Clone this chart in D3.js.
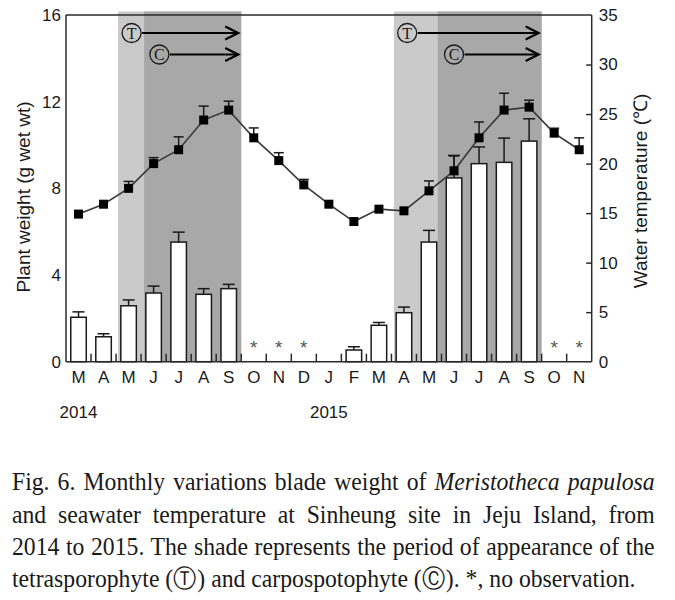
<!DOCTYPE html>
<html>
<head>
<meta charset="utf-8">
<script src="https://cdn.jsdelivr.net/npm/d3@7"></script>
<style>
  html, body { margin: 0; padding: 0; background: #fff; }
  svg { display: block; }
</style>
</head>
<body>
<svg id="chart" width="675" height="600"></svg>
<script>
// ---------------- data ----------------
const months = ["M","A","M","J","J","A","S","O","N","D","J","F","M","A","M","J","J","A","S","O","N"];
const yearLabels = ["2014", "2015"];
const yearMonthIndex = [0, 10];
// blade weight (g wet wt), null = no bar
const weight    = [2.05, 1.15, 2.58, 3.17, 5.52, 3.11, 3.37, null, null, null, null, 0.54, 1.68, 2.26, 5.52, 8.48, 9.14, 9.20, 10.18, null, null];
const weightErr = [0.25, 0.14, 0.27, 0.32, 0.46, 0.26, 0.20, null, null, null, null, 0.15, 0.13, 0.26, 0.54, 1.04, 0.77, 1.12, 1.03, null, null];
// months with no observation (*)
const noObservation = [7, 8, 9, 19, 20];
// water temperature (°C)
const temp    = [14.9, 15.9, 17.5, 20.0, 21.4, 24.4, 25.4, 22.6, 20.3, 17.85, 15.9, 14.15, 15.4, 15.23, 17.25, 19.27, 22.6, 25.4, 25.7, 23.07, 21.4];
const tempErr = [0, 0, 0.7, 0.6, 1.3, 1.4, 0.9, 1.0, 0.8, 0.55, 0, 0, 0, 0, 1.0, 1.5, 1.6, 1.7, 0.7, 0.5, 1.2];
// shaded periods in month-index units [start, end]
const tetraPeriods = [[2.08, 7.0], [13.1, 19.0]];
const carpoPeriods = [[3.12, 7.0], [14.85, 19.0]];
// phase arrows: label, start (month index of circle), end (month index of arrow tip), row
const arrowLabels = ["T", "C", "T", "C"];
const arrowStart  = [2.62, 3.73, 13.63, 15.5];
const arrowEnd    = [6.88, 6.88, 18.88, 18.88];
const arrowRow    = [0, 1, 0, 1];
const weightTicks = [0, 4, 8, 12, 16];
const tempTicks = [0, 5, 10, 15, 20, 25, 30, 35];
const captionLines = [
  [["Fig. 6. Monthly variations blade weight of ", false], ["Meristotheca papulosa", true]],
  [["and seawater temperature at Sinheung site in Jeju Island, from", false]],
  [["2014 to 2015. The shade represents the period of appearance of the", false]],
  [["tetrasporophyte (\u24C9) and carpospotophyte (\u24B8). *, no observation.", false]]
];

// ---------------- layout ----------------
const svg = d3.select("#chart");
const L = 66, R = 591.7, T = 15, B = 361.7;
const sans = "'Liberation Sans', Arial, sans-serif";
const serif = "'Liberation Serif', 'Times New Roman', serif";

const xi = d3.scaleLinear().domain([0, months.length]).range([L, R]);
const xb = d3.scaleBand().domain(d3.range(months.length)).range([L, R]).paddingInner(0).paddingOuter(0);
const yW = d3.scaleLinear().domain([0, 16]).range([B, T]);
const yT = d3.scaleLinear().domain([0, 35]).range([B, T]);
const barW = xb.bandwidth() * 0.62;

// shading
svg.append("g").selectAll("rect.light").data(tetraPeriods).join("rect")
  .attr("x", d => xi(d[0])).attr("width", d => xi(d[1]) - xi(d[0]))
  .attr("y", T - 3.5).attr("height", B - T + 3.5)
  .attr("fill", "#cacaca");
svg.append("g").selectAll("rect.dark").data(carpoPeriods).join("rect")
  .attr("x", d => xi(d[0])).attr("width", d => xi(d[1]) - xi(d[0]))
  .attr("y", T - 3.5).attr("height", B - T + 3.5)
  .attr("fill", "#a8a8a8");

// bars
const barIdx = d3.range(months.length).filter(i => weight[i] != null);
const gBars = svg.append("g");
barIdx.forEach(i => {
  const cx = xb(i) + xb.bandwidth() / 2;
  const top = weight[i] + (weightErr[i] || 0);
  gBars.append("line").attr("x1", cx).attr("x2", cx).attr("y1", yW(weight[i])).attr("y2", yW(top))
    .attr("stroke", "#1a1a1a").attr("stroke-width", 1.5);
  gBars.append("line").attr("x1", cx - 6).attr("x2", cx + 6).attr("y1", yW(top)).attr("y2", yW(top))
    .attr("stroke", "#1a1a1a").attr("stroke-width", 1.5);
});
gBars.selectAll("rect").data(barIdx).join("rect")
  .attr("x", i => xb(i) + (xb.bandwidth() - barW) / 2)
  .attr("width", barW)
  .attr("y", i => yW(weight[i]))
  .attr("height", i => yW(0) - yW(weight[i]))
  .attr("fill", "#fff").attr("stroke", "#1a1a1a").attr("stroke-width", 1.5);

// no observation asterisks
svg.append("g").selectAll("text").data(noObservation).join("text")
  .attr("x", i => xb(i) + xb.bandwidth() / 2).attr("y", 353.5)
  .attr("text-anchor", "middle").attr("font-family", sans).attr("font-size", 19)
  .attr("fill", "#555").text("*");

// temperature error bars
const gT = svg.append("g");
d3.range(months.length).filter(i => tempErr[i] > 0).forEach(i => {
  const cx = xb(i) + xb.bandwidth() / 2;
  const top = temp[i] + tempErr[i];
  gT.append("line").attr("x1", cx).attr("x2", cx).attr("y1", yT(temp[i])).attr("y2", yT(top))
    .attr("stroke", "#1a1a1a").attr("stroke-width", 1.5);
  gT.append("line").attr("x1", cx - 5).attr("x2", cx + 5).attr("y1", yT(top)).attr("y2", yT(top))
    .attr("stroke", "#1a1a1a").attr("stroke-width", 1.5);
});
// temperature line
const line = d3.line().x((d, i) => xb(i) + xb.bandwidth() / 2).y(d => yT(d));
gT.append("path").datum(temp).attr("d", line).attr("fill", "none")
  .attr("stroke", "#3a3a3a").attr("stroke-width", 1.6);
gT.selectAll("rect").data(temp).join("rect")
  .attr("x", (d, i) => xb(i) + xb.bandwidth() / 2 - 4.5)
  .attr("y", d => yT(d) - 4.5)
  .attr("width", 9).attr("height", 9).attr("fill", "#000");

// phase arrows
const rowY = [33, 54.5];
const gA = svg.append("g");
arrowLabels.forEach((lab, k) => {
  const cx = xi(arrowStart[k]), cy = rowY[arrowRow[k]], x2 = xi(arrowEnd[k]);
  gA.append("circle").attr("cx", cx).attr("cy", cy).attr("r", 9.5)
    .attr("fill", "none").attr("stroke", "#1a1a1a").attr("stroke-width", 1.3);
  gA.append("text").attr("x", cx).attr("y", cy + 5.5).attr("text-anchor", "middle")
    .attr("font-family", serif).attr("font-size", 16).attr("fill", "#1a1a1a").text(lab);
  gA.append("line").attr("x1", cx + 10.5).attr("x2", x2).attr("y1", cy).attr("y2", cy)
    .attr("stroke", "#000").attr("stroke-width", 2.2);
  gA.append("path").attr("d", `M${x2 - 13},${cy - 6.5} L${x2},${cy} L${x2 - 13},${cy + 6.5}`)
    .attr("fill", "none").attr("stroke", "#000").attr("stroke-width", 2.2);
});

// frame / axes
const axisColor = "#2a2a2a";
svg.append("line").attr("x1", L).attr("x2", R).attr("y1", T).attr("y2", T).attr("stroke", axisColor).attr("stroke-width", 1.5);
svg.append("line").attr("x1", L).attr("x2", L).attr("y1", T).attr("y2", B).attr("stroke", axisColor).attr("stroke-width", 1.5);
svg.append("line").attr("x1", R).attr("x2", R).attr("y1", T).attr("y2", B).attr("stroke", axisColor).attr("stroke-width", 1.5);

// left axis labels (no ticks)
const leftAxis = d3.axisLeft(yW).tickValues(weightTicks).tickSize(0).tickPadding(5);
const gL = svg.append("g").attr("transform", `translate(${L},0)`).call(leftAxis);
gL.select(".domain").remove();
gL.selectAll("text").attr("font-family", sans).attr("font-size", 17).attr("fill", "#1a1a1a");

// right axis: inward ticks
const rightAxis = d3.axisRight(yT).tickValues(tempTicks).tickSize(0).tickPadding(7);
const gR = svg.append("g").attr("transform", `translate(${R},0)`).call(rightAxis);
gR.select(".domain").remove();
gR.selectAll("text").attr("font-family", sans).attr("font-size", 17).attr("fill", "#1a1a1a");
gR.selectAll(".tick").filter(d => d > 0 && d < 35).append("line")
  .attr("x1", -5.5).attr("x2", 0).attr("y1", 0).attr("y2", 0)
  .attr("stroke", axisColor).attr("stroke-width", 1.5);

// bottom axis: inward ticks at month boundaries, labels at centers
svg.append("line").attr("x1", L).attr("x2", R).attr("y1", B).attr("y2", B).attr("stroke", axisColor).attr("stroke-width", 1.6);
svg.append("g").selectAll("line").data(d3.range(1, months.length)).join("line")
  .attr("x1", i => xi(i)).attr("x2", i => xi(i)).attr("y1", B).attr("y2", B - 8)
  .attr("stroke", axisColor).attr("stroke-width", 1.5);
const bottomAxis = d3.axisBottom(xb).tickFormat(i => months[i]).tickSize(0).tickPadding(9);
const gB = svg.append("g").attr("transform", `translate(0,${B})`).call(bottomAxis);
gB.select(".domain").remove();
gB.selectAll("text").attr("font-family", sans).attr("font-size", 17).attr("fill", "#1a1a1a");

// year labels
svg.append("g").selectAll("text").data(yearLabels).join("text")
  .attr("x", (d, k) => xb(yearMonthIndex[k]) + xb.bandwidth() / 2)
  .attr("y", 418).attr("text-anchor", "middle")
  .attr("font-family", sans).attr("font-size", 17).attr("fill", "#1a1a1a").text(d => d);

// axis titles
svg.append("text").attr("transform", "translate(30,197) rotate(-90)").attr("text-anchor", "middle")
  .attr("font-family", sans).attr("font-size", 19).attr("fill", "#1a1a1a").text("Plant weight (g wet wt)");
svg.append("text").attr("transform", "translate(647,191) rotate(-90)").attr("text-anchor", "middle")
  .attr("font-family", sans).attr("font-size", 19).attr("fill", "#1a1a1a").text("Water temperature (\u2103)");

// caption: condensed serif, justified (last line left-aligned)
const capX = 12, capW = 643, capY = [490, 522.5, 555, 587];
const baseScale = 0.93;
captionLines.forEach((parts, k) => {
  const t = svg.append("text").attr("x", 0).attr("y", 0)
    .attr("font-family", serif).attr("font-size", 25.5).attr("fill", "#1a1a1a");
  parts.forEach(p => {
    t.append("tspan").attr("font-style", p[1] ? "italic" : "normal").text(p[0]);
  });
  const nat = t.node().getComputedTextLength();
  const spaces = parts.map(p => p[0]).join("").split(" ").length - 1;
  const last = k === captionLines.length - 1;
  let s = baseScale;
  if (!last) {
    s = Math.min(baseScale, capW / nat);
    const extra = capW / s - nat;
    if (extra > 0) t.attr("word-spacing", extra / spaces);
  } else {
    s = Math.min(baseScale, capW / nat);
  }
  t.attr("transform", `translate(${capX},${capY[k]}) scale(${s},1)`);
});
</script>
</body>
</html>
